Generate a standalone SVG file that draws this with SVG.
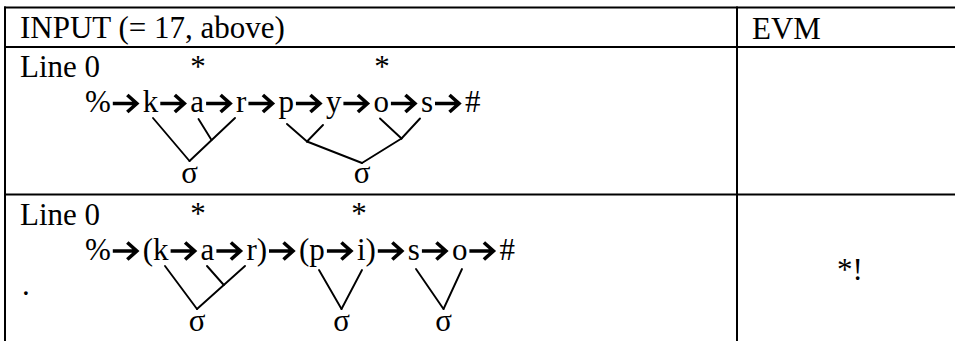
<svg xmlns="http://www.w3.org/2000/svg" xmlns:xlink="http://www.w3.org/1999/xlink" width="955" height="341" viewBox="0 0 955 341">
<style>
text { font-family: "Liberation Serif", "Times New Roman", serif; font-size: 31px; fill: #000; }
.mid { text-anchor: middle; }
.grid { stroke: #000; stroke-width: 2; fill: none; }
.tree { stroke: #000; stroke-width: 1.9; fill: none; stroke-linecap: round; }
.arr { stroke: #000; stroke-width: 3.6; fill: none; stroke-linejoin: miter; }
</style>
<defs>
<path id="arrow" class="arr" d="M2,0 H25.5 M16.5,-8.5 L26,0 L16.5,8.5"/>
</defs>
<rect width="955" height="341" fill="#fff"/>
<g id="table" class="grid">
<line x1="4" y1="7.5" x2="955" y2="7.5"/>
<line x1="4" y1="47" x2="955" y2="47"/>
<line x1="4" y1="194.5" x2="955" y2="194.5"/>
<line x1="5" y1="6.5" x2="5" y2="341"/>
<line x1="737" y1="6.5" x2="737" y2="341"/>
</g>
<g id="header-input"><text x="20" y="38">INPUT (= 17, above)</text></g>
<g id="header-evm"><text x="752" y="38.5">EVM</text></g>

<g id="r1-label"><text x="20" y="76.5">Line 0</text></g>
<g id="r1-star1"><text class="mid" x="198" y="76.5">*</text></g>
<g id="r1-star2"><text class="mid" x="382" y="76.5">*</text></g>
<g id="r1-pct"><text x="85" y="112">%</text></g>
<g id="r1-k"><text x="142.8" y="112">k</text></g>
<g id="r1-a"><text x="190.3" y="112">a</text></g>
<g id="r1-r"><text x="236.1" y="112">r</text></g>
<g id="r1-p"><text x="278.4" y="112">p</text></g>
<g id="r1-y"><text x="325.9" y="112">y</text></g>
<g id="r1-o"><text x="373.4" y="112">o</text></g>
<g id="r1-s"><text x="420.9" y="112">s</text></g>
<g id="r1-hash"><text x="465" y="112">#</text></g>
<g id="r1-sigma1"><text class="mid" x="189.5" y="183">σ</text></g>
<g id="r1-sigma2"><text class="mid" x="362" y="183">σ</text></g>

<g id="r2-label"><text x="20" y="225">Line 0</text></g>
<g id="r2-star1"><text class="mid" x="198" y="224">*</text></g>
<g id="r2-star2"><text class="mid" x="359" y="224">*</text></g>
<g id="r2-pct"><text x="85" y="259.5">%</text></g>
<g id="r2-k"><text x="142.8" y="259.5">(k</text></g>
<g id="r2-a"><text x="200.6" y="259.5">a</text></g>
<g id="r2-r"><text x="246.4" y="259.5">r)</text></g>
<g id="r2-p"><text x="299" y="259.5">(p</text></g>
<g id="r2-i"><text x="356.9" y="259.5">i)</text></g>
<g id="r2-s"><text x="407.8" y="259.5">s</text></g>
<g id="r2-o"><text x="451.9" y="259.5">o</text></g>
<g id="r2-hash"><text x="499.4" y="259.5">#</text></g>
<g id="r2-dot"><text x="22" y="295">.</text></g>
<g id="r2-sigma1"><text class="mid" x="197" y="331">σ</text></g>
<g id="r2-sigma2"><text class="mid" x="341.5" y="331">σ</text></g>
<g id="r2-sigma3"><text class="mid" x="443.5" y="331">σ</text></g>
<g id="r2-evm"><text class="mid" x="850" y="280">*!</text></g>

<g id="connectors">
<use xlink:href="#arrow" href="#arrow" transform="translate(110.8,103.5)"/>
<use xlink:href="#arrow" href="#arrow" transform="translate(158.3,103.5)"/>
<use xlink:href="#arrow" href="#arrow" transform="translate(204.1,103.5)"/>
<use xlink:href="#arrow" href="#arrow" transform="translate(246.4,103.5)"/>
<use xlink:href="#arrow" href="#arrow" transform="translate(293.9,103.5)"/>
<use xlink:href="#arrow" href="#arrow" transform="translate(341.4,103.5)"/>
<use xlink:href="#arrow" href="#arrow" transform="translate(388.9,103.5)"/>
<use xlink:href="#arrow" href="#arrow" transform="translate(433,103.5)"/>

<use xlink:href="#arrow" href="#arrow" transform="translate(110.8,251)"/>
<use xlink:href="#arrow" href="#arrow" transform="translate(168.6,251)"/>
<use xlink:href="#arrow" href="#arrow" transform="translate(214.4,251)"/>
<use xlink:href="#arrow" href="#arrow" transform="translate(267,251)"/>
<use xlink:href="#arrow" href="#arrow" transform="translate(324.9,251)"/>
<use xlink:href="#arrow" href="#arrow" transform="translate(375.8,251)"/>
<use xlink:href="#arrow" href="#arrow" transform="translate(419.9,251)"/>
<use xlink:href="#arrow" href="#arrow" transform="translate(467.4,251)"/>

<g class="tree">
<line x1="153" y1="118" x2="189.5" y2="161"/>
<line x1="235" y1="118" x2="189.5" y2="161"/>
<line x1="198.5" y1="119" x2="211.5" y2="140"/>
<line x1="287" y1="124" x2="307" y2="141.5"/>
<line x1="323" y1="125" x2="307" y2="141.5"/>
<line x1="307" y1="141.5" x2="362" y2="163"/>
<line x1="380" y1="118.5" x2="401.5" y2="138.5"/>
<line x1="420" y1="118.5" x2="401.5" y2="138.5"/>
<line x1="401.5" y1="138.5" x2="362" y2="163"/>

<line x1="165" y1="266" x2="197" y2="309"/>
<line x1="245" y1="266" x2="197" y2="309"/>
<line x1="207" y1="266" x2="223.8" y2="285"/>
<line x1="319" y1="270" x2="341.5" y2="309"/>
<line x1="362" y1="270" x2="341.5" y2="309"/>
<line x1="416" y1="269" x2="443.5" y2="309"/>
<line x1="462" y1="269" x2="443.5" y2="309"/>
</g>
</g>
</svg>
